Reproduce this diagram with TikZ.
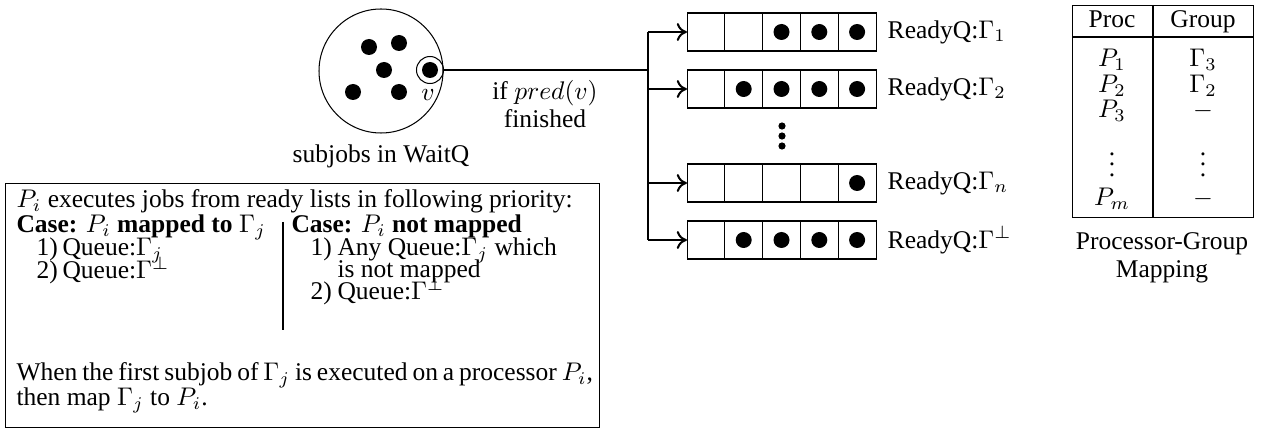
\documentclass[tikz,border=0pt]{standalone}
\usepackage[no-math]{fontspec}
\setmainfont{Liberation Serif}
\usetikzlibrary{arrows.meta}

\begin{document}
\begin{tikzpicture}[x=0.392pt, y=-0.392pt,
  font=\fontsize{10}{12}\selectfont,
  every node/.style={inner sep=0pt},
  txt/.style={anchor=base west},
  ctxt/.style={anchor=base},
  frame/.style={draw, line width=0.4pt},
  bus/.style={line width=0.8pt},
  feed/.style={bus, -{To[length=4pt, width=7pt]}},
]
\useasboundingbox (0,0) rectangle (1266,433);

% ---- waiting pool ----
\node[frame, circle, minimum size={124*0.392pt}] (wait) at (381,71) {};
\foreach \jx/\jy in {369/47, 399/43, 384/70, 353/92, 399/92}
  \fill (\jx,\jy) circle[radius=8];
\node[frame, circle, minimum size={27*0.392pt}] (vring) at (430,70) {};
\fill (vring.center) circle[radius=8];
\node[ctxt] (vlab) at (428,101) {$v$};
\node[ctxt] (waitcap) at (381,163) {subjobs in WaitQ};

% ---- dispatch from the pool to the ready queues ----
\coordinate (fork) at (648,70);
\draw[line width=0.4pt] (vring) -- (fork);
\node[ctxt] (cond1) at (545,100) {if $pred(v)$};
\node[ctxt] (cond2) at (545,128) {finished};

% ---- ready queues ----
\foreach \qn/\qy/\qf/\ql in {q1/32/3/{$\Gamma_1$}, q2/89/2/{$\Gamma_2$},
                             qn/183/5/{$\Gamma_n$}, qp/240/2/{$\Gamma^{\perp}$}}{
  \node[frame, anchor=west, minimum width={189*0.392pt},
        minimum height={38*0.392pt}] (\qn) at (687,\qy) {};
  \foreach \k in {1,...,4}
    \draw[line width=0.4pt] (687+\k*37.8,\qy-19) -- ++(0,38);
  \foreach \k in {\qf,...,5}
    \fill (687+\k*37.8-18.9,\qy) circle[radius=8];
  \node[anchor=west, xshift=4pt] (\qn lab) at (\qn.east) {ReadyQ:\ql};
  \coordinate (\qn j) at (648,\qy);
  \draw[feed] (\qn j) -- (\qn.west);
}
\draw[bus] (q1j) -- (qpj);
\foreach \dy in {126,136,146}
  \fill (782,\dy) circle[radius=3.6];

% ---- processor-group mapping table ----
\node[frame, anchor=north west, minimum width={181*0.392pt},
      minimum height={212*0.392pt}] (tab) at (1072,5) {};
\draw[line width=0.4pt] (1153,5) -- (1153,217);
\draw[line width=0.4pt] (1072,37) -- (1253,37);
\node[ctxt] (hproc)  at (1112,28) {Proc};
\node[ctxt] (hgroup) at (1203,28) {Group};
\node[ctxt] (p1) at (1112,67)  {$P_1$};
\node[ctxt] (g1) at (1203,67)  {$\Gamma_3$};
\node[ctxt] (p2) at (1112,93)  {$P_2$};
\node[ctxt] (g2) at (1203,93)  {$\Gamma_2$};
\node[ctxt] (p3) at (1112,118) {$P_3$};
\node[ctxt] (g3) at (1203,118) {$-$};
\node (pd) at (1112,157) {$\vdots$};
\node (gd) at (1203,157) {$\vdots$};
\node[ctxt] (pm) at (1112,206) {$P_m$};
\node[ctxt] (gm) at (1203,206) {$-$};
\node[ctxt] (tabcap1) at (1162,250) {Processor-Group};
\node[ctxt] (tabcap2) at (1162,278) {Mapping};

% ---- scheduling rules ----
\node[frame, anchor=north west, minimum width={594*0.392pt},
      minimum height={244*0.392pt}] (rules) at (5,183) {};
\node[txt] (r0) at (16,208) {$P_i$ executes jobs from ready lists in following priority:};
\node[txt] (ca) at (16,233) {\textbf{Case:} $P_i$ \textbf{mapped to} $\Gamma_j$};
\node[txt] (ca1n) at (36,256) {1)};
\node[txt] (ca1)  at (62,256) {Queue:$\Gamma_j$};
\node[txt] (ca2n) at (36,279) {2)};
\node[txt] (ca2)  at (62,279) {Queue:$\Gamma^{\perp}$};
\draw[line width=0.4pt] (283,222) -- (283,330);
\node[txt] (cb) at (291,233) {\textbf{Case:} $P_i$ \textbf{not mapped}};
\node[txt] (cb1n) at (310,256) {1)};
\node[txt] (cb1)  at (337,256) {Any Queue:$\Gamma_j$ which};
\node[txt] (cb1b) at (337,278) {is not mapped};
\node[txt] (cb2n) at (310,300) {2)};
\node[txt] (cb2)  at (337,300) {Queue:$\Gamma^{\perp}$};
\node[txt] (w1) at (16,381) {\makebox[226pt][s]{When the first subjob of $\Gamma_j$ is executed on a processor $P_i$,}};
\node[txt] (w2) at (16,406) {then map $\Gamma_j$ to $P_i$.};
\end{tikzpicture}
\end{document}
